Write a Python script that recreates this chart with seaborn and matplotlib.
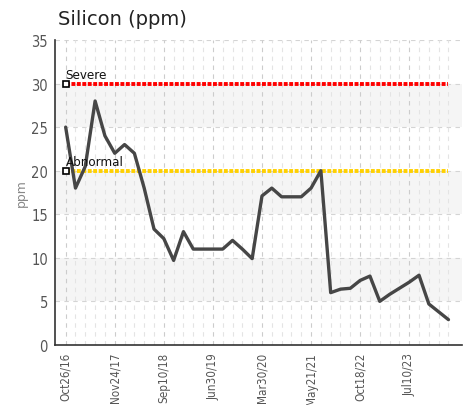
import pandas as pd
import matplotlib.pyplot as plt
import seaborn as sns
import numpy as np
from matplotlib import font_manager

# dados (uma amostra por posição)
silicon = [25, 18, 20.5, 28, 24, 22, 23, 22, 18, 13.3,
           12.2, 9.7, 13, 11, 11, 11, 11, 12, 11, 9.9,
           17.1, 18, 17, 17, 17, 18, 20, 6, 6.4, 6.5,
           7.4, 7.9, 5, 5.8, 6.5, 7.2, 8, 4.7, 3.8, 2.9]
tick_labels = ["Oct26/16", "Nov24/17", "Sep10/18", "Jun30/19",
               "Mar30/20", "May21/21", "Oct18/22", "Jul10/23"]
limits = ["Severe", "Abnormal"]
limit_values = [30, 20]
limit_colors = ["#ff0000", "#ffd000"]

sns.set_style("white")
plt.rcParams['font.family'] = ['DejaVu Sans']

# procura uma fonte condensada instalada
cond_path = None
for f in font_manager.fontManager.ttflist:
    if ('Condensed' in f.fname or 'Narrow' in f.fname) and not any(
            s in f.fname for s in ('Bold', 'Oblique', 'Italic')):
        cond_path = f.fname
        break


def fonte(tam):
    if cond_path:
        return font_manager.FontProperties(fname=cond_path, size=tam)
    return font_manager.FontProperties(size=tam * 0.85)


df = pd.DataFrame({"sample": np.arange(len(silicon)), "ppm": silicon})

fig = plt.figure(figsize=(4.65, 4.06), dpi=100)
ax = fig.add_axes([0.118, 0.148, 0.876, 0.751])

# faixas alternadas de fundo
for lo in range(5, 35, 10):
    ax.axhspan(lo, lo + 5, color="#f5f5f5", zorder=0, lw=0)

# grade
for y in range(5, 36, 5):
    ax.axhline(y, color="#d4d4d4", lw=0.8, ls=(0, (4, 4)), zorder=1)
for x in range(0, 40):
    major = x % 5 == 0
    ax.axvline(x, color="#cccccc" if major else "#e4e4e4", lw=0.8,
               ls=(0, (4, 4)), zorder=1)

# limites
for name, val, col in zip(limits, limit_values, limit_colors):
    lim_df = pd.DataFrame({"sample": np.arange(len(silicon)), "v": val})
    sns.lineplot(data=lim_df, x="sample", y="v", ax=ax, color=col, lw=2.8,
                 ls=(0, (1, 0.4)), zorder=2)
    ax.plot([0], [val], marker="s", ms=4.5, mfc="white", mec="black",
            mew=1.2, ls="none", zorder=4)
    ax.text(0, val + 0.6, name, color="#111111", fontproperties=fonte(9.5),
            zorder=5)

sns.lineplot(data=df, x="sample", y="ppm", ax=ax, color="#464646", lw=2.4,
             zorder=3)

ax.set_xlim(-1.1, 40.4)
ax.set_ylim(0, 35)
ax.set_yticks(range(0, 36, 5))
ax.set_xticks(range(0, 40, 5))
ax.set_xticklabels(tick_labels, rotation=90)
ax.set_xticks(range(0, 40), minor=True)
ax.set_xlabel("")
ax.set_ylabel("ppm", color="#888888", fontsize=9, labelpad=2)

for lab in ax.get_xticklabels():
    lab.set_fontproperties(fonte(8.4))
    lab.set_color("#555555")
for lab in ax.get_yticklabels():
    lab.set_fontproperties(fonte(10.5))
    lab.set_color("#555555")

ax.tick_params(axis="both", which="major", direction="inout", length=6,
               width=1, color="#333333", pad=2)
ax.tick_params(axis="x", which="minor", direction="inout", length=3,
               width=0.8, color="#333333")

for side in ["top", "right"]:
    ax.spines[side].set_visible(False)
for side in ["left", "bottom"]:
    ax.spines[side].set_color("#333333")
    ax.spines[side].set_linewidth(1.2)

fig.text(0.125, 0.952, "Silicon (ppm)", fontsize=14, color="#222222",
         va="center", ha="left")

fig.savefig("out.png", dpi=100)
